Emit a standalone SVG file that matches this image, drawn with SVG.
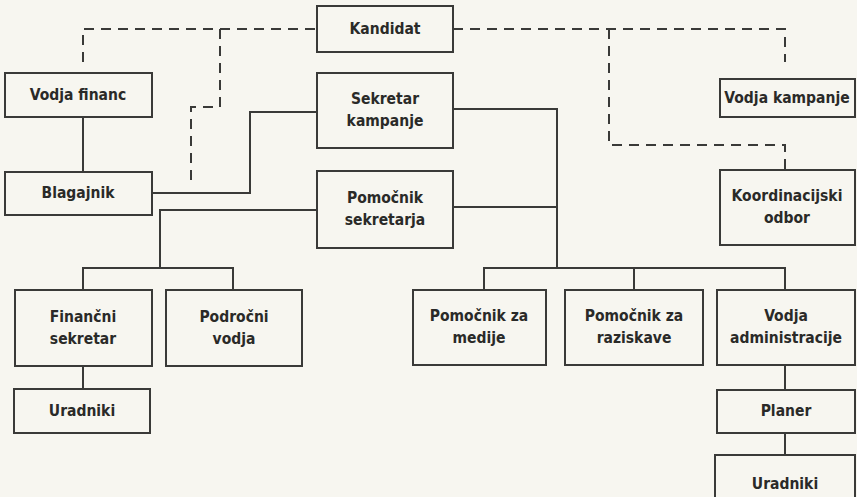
<svg xmlns="http://www.w3.org/2000/svg" width="857" height="497" viewBox="0 0 857 497">
<style>
.box{fill:none;stroke:#3a3a38;stroke-width:2}
.ln{fill:none;stroke:#3a3a38;stroke-width:2}
.ds{fill:none;stroke:#3a3a38;stroke-width:2;stroke-dasharray:10 7}
text{font-family:"DejaVu Sans Condensed","Liberation Sans",sans-serif;font-weight:bold;font-size:15.5px;fill:#2a2a28;text-anchor:middle;dominant-baseline:central}
</style>
<rect x="0" y="0" width="857" height="497" fill="#f7f6f0"/>
<g id="connectors">
<path class="ln" d="M83 117V172"/>
<path class="ln" d="M152 193H250V112H317"/>
<path class="ln" d="M453 109H557V268"/>
<path class="ln" d="M453 207H557"/>
<path class="ln" d="M317 210H160V268"/>
<path class="ln" d="M83 290V268H233V290"/>
<path class="ln" d="M83 366V389"/>
<path class="ln" d="M484 290V268H785V290"/>
<path class="ln" d="M634 268V290"/>
<path class="ln" d="M785 365V390"/>
<path class="ln" d="M785 433V455"/>
<path class="ds" d="M83 62V29H317"/>
<path class="ds" d="M220 29V107H191V183"/>
<path class="ds" d="M453 29H785V62"/>
<path class="ds" d="M609 29V145H785V170"/>
</g>
<g id="kandidat"><rect class="box" x="317" y="6" width="136" height="46"/><text x="385" y="29">Kandidat</text></g>
<g id="sekretar-kampanje"><rect class="box" x="317" y="73" width="136" height="75"/><text x="385" y="99">Sekretar</text><text x="385" y="121">kampanje</text></g>
<g id="pomocnik-sekretarja"><rect class="box" x="317" y="171" width="136" height="77"/><text x="385" y="198">Pomočnik</text><text x="385" y="220">sekretarja</text></g>
<g id="vodja-financ"><rect class="box" x="5" y="73" width="147" height="44"/><text x="78" y="95">Vodja financ</text></g>
<g id="blagajnik"><rect class="box" x="5" y="172" width="147" height="43"/><text x="78" y="193">Blagajnik</text></g>
<g id="vodja-kampanje"><rect class="box" x="720" y="79" width="135" height="38"/><text x="787" y="98">Vodja kampanje</text></g>
<g id="koordinacijski-odbor"><rect class="box" x="720" y="170" width="135" height="75"/><text x="787" y="196">Koordinacijski</text><text x="787" y="218">odbor</text></g>
<g id="financni-sekretar"><rect class="box" x="15" y="290" width="137" height="76"/><text x="83" y="317">Finančni</text><text x="83" y="339">sekretar</text></g>
<g id="podrocni-vodja"><rect class="box" x="166" y="290" width="136" height="76"/><text x="234" y="317">Področni</text><text x="234" y="339">vodja</text></g>
<g id="uradniki-1"><rect class="box" x="14" y="389" width="136" height="44"/><text x="82" y="411">Uradniki</text></g>
<g id="pomocnik-medije"><rect class="box" x="413" y="290" width="133" height="75"/><text x="479" y="316">Pomočnik za</text><text x="479" y="338">medije</text></g>
<g id="pomocnik-raziskave"><rect class="box" x="565" y="290" width="138" height="75"/><text x="634" y="316">Pomočnik za</text><text x="634" y="338">raziskave</text></g>
<g id="vodja-administracije"><rect class="box" x="717" y="290" width="138" height="75"/><text x="786" y="316">Vodja</text><text x="786" y="338">administracije</text></g>
<g id="planer"><rect class="box" x="717" y="390" width="138" height="43"/><text x="786" y="411">Planer</text></g>
<g id="uradniki-2"><rect class="box" x="715" y="455" width="140" height="50"/><text x="785" y="484">Uradniki</text></g>
</svg>
